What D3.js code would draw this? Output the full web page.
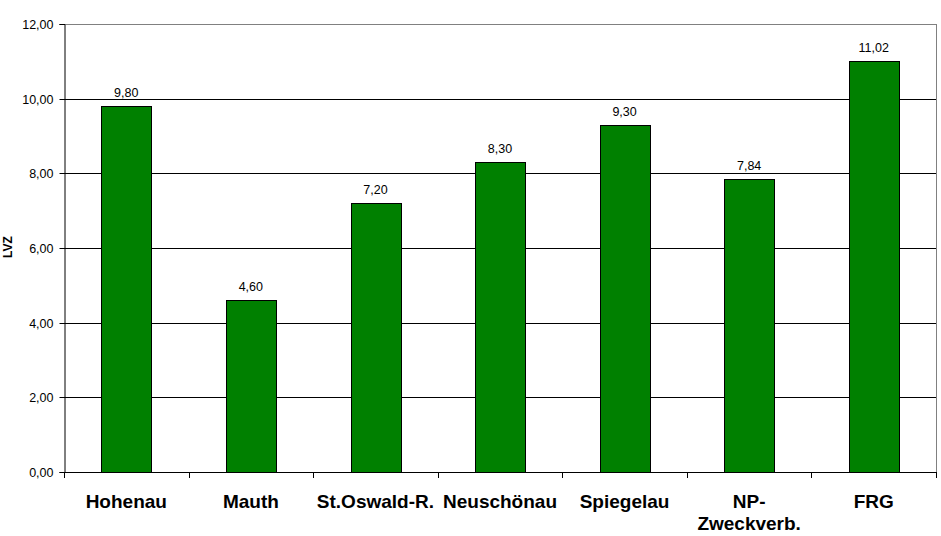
<!DOCTYPE html>
<html><head><meta charset="utf-8">
<script src="https://cdn.jsdelivr.net/npm/d3@7"></script>
<style>html,body{margin:0;padding:0;background:#fff;}svg{display:block;}</style>
</head><body>
<script>
const categories = ["Hohenau","Mauth","St.Oswald-R.","Neuschönau","Spiegelau","NP-\nZweckverb.","FRG"];
const values = [9.80, 4.60, 7.20, 8.30, 9.30, 7.84, 11.02];
const yTicks = [0, 2, 4, 6, 8, 10, 12];
const yLabel = "LVZ";

const W = 941, H = 536;
const m = {left: 64, top: 24, right: 941-936, bottom: 536-472};
const fmt = v => v.toFixed(2).replace(".", ",");
const font = "'Liberation Sans', Arial, sans-serif";
const R = v => Math.round(v) + 0.5;

const svg = d3.select("body").append("svg").attr("width", W).attr("height", H)
  .style("font-family", font);

const x = d3.scaleBand().domain(categories).range([m.left, W - m.right]).paddingInner(0.6).paddingOuter(0.3);
const xb = d3.scaleBand().domain(categories).range([m.left, W - m.right]);
const y = d3.scaleLinear().domain([0, 12]).range([H - m.bottom, m.top]);

// gridlines
svg.append("g").selectAll("line").data(yTicks.filter(t => t > 0 && t < 12)).join("line")
  .attr("x1", m.left).attr("x2", W - m.right)
  .attr("y1", d => R(y(d))).attr("y2", d => R(y(d)))
  .attr("stroke", "#000").attr("stroke-width", 1);

// frame top/right grey
svg.append("line").attr("x1", m.left).attr("x2", W - m.right + 0.5)
  .attr("y1", R(y(12))).attr("y2", R(y(12))).attr("stroke", "#808080");
svg.append("line").attr("x1", W - m.right + 0.5).attr("x2", W - m.right + 0.5)
  .attr("y1", y(12)).attr("y2", y(0)).attr("stroke", "#808080");

// bars
svg.append("g").selectAll("rect").data(values).join("rect")
  .attr("x", (d, i) => R(x(categories[i])))
  .attr("width", Math.round(x.bandwidth()))
  .attr("y", d => R(y(d)))
  .attr("height", d => Math.round(y(0)) - Math.round(y(d)))
  .attr("fill", "#008000").attr("stroke", "#000").attr("stroke-width", 1);

// value labels
svg.append("g").selectAll("text").data(values).join("text")
  .attr("x", (d, i) => x(categories[i]) + x.bandwidth() / 2)
  .attr("y", d => y(d) - 9)
  .attr("text-anchor", "middle").attr("font-size", "12.5px").attr("fill", "#000")
  .text(d => fmt(d));

// y axis
const yAxis = d3.axisLeft(y).tickValues(yTicks).tickSize(5).tickPadding(6).tickFormat(fmt);
const gy = svg.append("g").attr("transform", `translate(${m.left + 0.5},0)`).call(yAxis);
gy.select(".domain").attr("stroke", "#000");
gy.selectAll(".tick").attr("transform", d => `translate(0,${R(y(d))})`);
gy.selectAll(".tick line").attr("stroke", "#000");
gy.selectAll("text").attr("font-size", "12.5px").attr("font-family", font).attr("fill", "#000");

// x axis
const xAxis = d3.axisBottom(xb).tickSize(0).tickFormat("");
const gx = svg.append("g").attr("transform", `translate(0.5,${R(y(0))})`).call(xAxis);
gx.select(".domain").attr("stroke", "#000").attr("d", `M${m.left},0H${W - m.right}`);
gx.selectAll(".tick").remove();
// boundary ticks
const bounds = categories.map(c => xb(c)).concat([W - m.right]);
svg.append("g").selectAll("line").data(bounds).join("line")
  .attr("x1", d => R(d)).attr("x2", d => R(d))
  .attr("y1", y(0)).attr("y2", y(0) + 6).attr("stroke", "#000");

// category labels
const cl = svg.append("g").selectAll("text").data(categories).join("text")
  .attr("x", d => xb(d) + xb.bandwidth() / 2)
  .attr("y", 508)
  .attr("text-anchor", "middle").attr("font-size", "19px").attr("font-weight", "bold").attr("fill", "#000");
cl.each(function(d) {
  const lines = d.split("\n");
  const t = d3.select(this);
  lines.forEach((ln, i) => {
    t.append("tspan").attr("x", xb(d) + xb.bandwidth() / 2).attr("dy", i === 0 ? 0 : 22).text(ln);
  });
});

// y label
svg.append("text").attr("transform", `translate(12,247) rotate(-90)`)
  .attr("text-anchor", "middle").attr("font-size", "12px").attr("font-weight", "bold")
  .attr("fill", "#000").text(yLabel);
</script>
</body></html>
